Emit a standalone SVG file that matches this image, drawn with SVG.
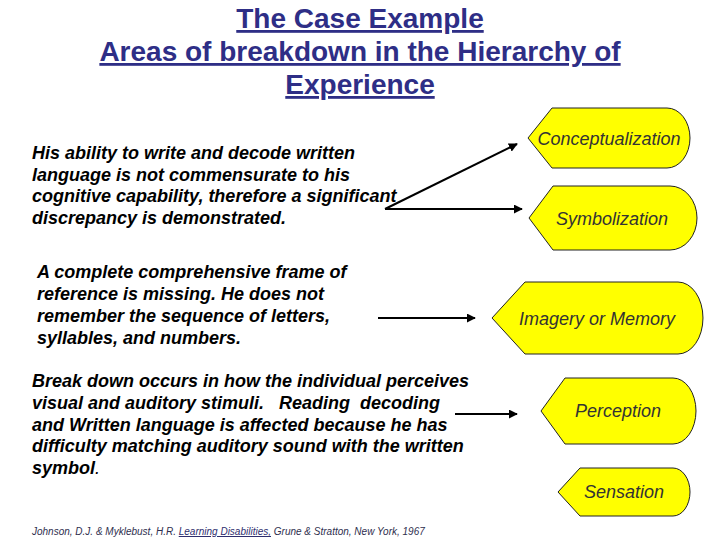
<svg xmlns="http://www.w3.org/2000/svg" width="720" height="540" viewBox="0 0 720 540">
<style>
.title{font-family:"Liberation Sans",Arial,sans-serif;font-size:28px;font-weight:bold;fill:#2e2e86;text-anchor:middle;text-decoration:underline;}
.body{font-family:"Liberation Sans",Arial,sans-serif;font-size:18px;font-weight:bold;font-style:italic;fill:#000;white-space:pre;}
.node path{fill:#ffff00;stroke:#222;stroke-width:1;}
.node text{font-family:"Liberation Sans",Arial,sans-serif;font-size:18px;font-style:italic;fill:#333;text-anchor:middle;}
.conn line{stroke:#000;stroke-width:2;marker-end:url(#ah);}
.cite{font-family:"Liberation Sans",Arial,sans-serif;font-size:10px;font-style:italic;fill:#2e2e4e;}
</style>
<defs>
<marker id="ah" viewBox="0 0 10 10" refX="9" refY="5" markerWidth="4.5" markerHeight="4.5" orient="auto" markerUnits="strokeWidth">
<path d="M0,0 L10,5 L0,10 Z" fill="#000"/>
</marker>
</defs>
<rect width="720" height="540" fill="#fff"/>
<g id="title">
<text class="title" x="360" y="28">The Case Example</text>
<text class="title" x="360" y="61">Areas of breakdown in the Hierarchy of</text>
<text class="title" x="360" y="94">Experience</text>
</g>
<g id="text1">
<text class="body" x="32" y="159">His ability to write and decode written</text>
<text class="body" x="32" y="180.5">language is not commensurate to his</text>
<text class="body" x="32" y="202">cognitive capability, therefore a significant</text>
<text class="body" x="32" y="223.5">discrepancy is demonstrated.</text>
</g>
<g id="text2">
<text class="body" x="37" y="278">A complete comprehensive frame of</text>
<text class="body" x="37" y="300">reference is missing. He does not</text>
<text class="body" x="37" y="322">remember the sequence of letters,</text>
<text class="body" x="37" y="343.5">syllables, and numbers.</text>
</g>
<g id="text3">
<text class="body" x="32" y="387">Break down occurs in how the individual perceives</text>
<text class="body" x="32" y="409">visual and auditory stimuli.   Reading  decoding</text>
<text class="body" x="32" y="430.5">and Written language is affected because he has</text>
<text class="body" x="32" y="452">difficulty matching auditory sound with the written</text>
<text class="body" x="32" y="473.5">symbol<tspan font-weight="normal">.</tspan></text>
</g>
<g id="conceptualization" class="node">
<path d="M528,138 L552,108 L667,108 A23,30 0 0 1 667,168 L552,168 Z"/>
<text x="609" y="145">Conceptualization</text>
</g>
<g id="symbolization" class="node">
<path d="M529,218 L553,186 L670,186 A27,32 0 0 1 670,250 L553,250 Z"/>
<text x="612" y="225">Symbolization</text>
</g>
<g id="imagery" class="node">
<path d="M492,318 L525,282 L678,282 A25,36 0 0 1 678,354 L525,354 Z"/>
<text x="597" y="325">Imagery or Memory</text>
</g>
<g id="perception" class="node">
<path d="M541,411 L565,378 L673,378 A23,33 0 0 1 673,444 L565,444 Z"/>
<text x="618" y="417">Perception</text>
</g>
<g id="sensation" class="node">
<path d="M558,492 L580,468 L673,468 A17,24 0 0 1 673,516 L580,516 Z"/>
<text x="624" y="498">Sensation</text>
</g>
<g id="connectors" class="conn">
<line x1="385" y1="209" x2="517" y2="144"/>
<line x1="385" y1="209" x2="522" y2="209"/>
<line x1="378" y1="318" x2="475" y2="318"/>
<line x1="455" y1="414" x2="517" y2="414"/>
</g>
<g id="citation">
<text class="cite" x="32" y="535">Johnson, D.J. &amp; Myklebust, H.R. <tspan text-decoration="underline" fill="#2e2e6e">Learning Disabilities,</tspan> Grune &amp; Stratton, New York, 1967</text>
</g>
</svg>
